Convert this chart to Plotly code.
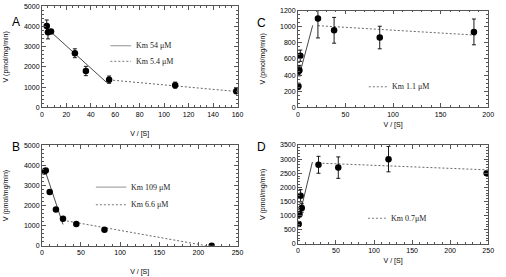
import plotly.graph_objects as go

# ---------------- data ----------------
# Panel A
a_x = [4, 5, 7.5, 27, 36, 55, 109, 159]
a_y = [4030, 3720, 3760, 2680, 1800, 1370, 1100, 800]
a_err = [300, 330, 90, 220, 230, 180, 150, 120]
a_fit1_x = [7, 53]
a_fit1_y = [3760, 1230]
a_fit2_x = [55, 160]
a_fit2_y = [1360, 780]

# Panel B
b_x = [3, 5, 10, 18, 27, 44, 80, 217]
b_y = [3700, 3750, 2680, 1800, 1350, 1080, 800, 0]
b_err = [60, 60, 60, 60, 60, 60, 60, 40]
b_fit1_x = [3, 27]
b_fit1_y = [3870, 1060]
b_fit2_x = [27, 210]
b_fit2_y = [1270, 0]

# Panel C
c_x = [0.5, 1, 1.5, 2.5, 21, 38, 86, 185]
c_y = [260, 450, 460, 640, 1100, 955, 865, 935]
c_err = [40, 60, 60, 70, 240, 160, 140, 160]
c_fit1_x = [2, 15.5]
c_fit1_y = [420, 1015]
c_fit2_x = [21, 187]
c_fit2_y = [1012, 895]

# Panel D
d_x = [1, 2, 3.5, 5, 27, 53, 119, 248]
d_y = [700, 1050, 1700, 1270, 2800, 2700, 3000, 2500]
d_err = [80, 100, 220, 150, 300, 380, 450, 60]
d_fit1_x = [1, 19]
d_fit1_y = [880, 2900]
d_fit2_x = [27, 250]
d_fit2_y = [2860, 2620]

panel_letters = ["A", "B", "C", "D"]
y_title = "V (pmol/mg/min)"
x_title = "V / [S]"

fig = go.Figure()

DASH = "2px,2px"
LINEC = "#333333"
DASHC = "#555555"

def add_panel(n, xs, ys, errs, f1x, f1y, f2x, f2y):
    xa = "x" if n == 1 else f"x{n}"
    ya = "y" if n == 1 else f"y{n}"
    fig.add_trace(go.Scatter(x=f1x, y=f1y, mode="lines", xaxis=xa, yaxis=ya,
                             line=dict(color=LINEC, width=0.9), showlegend=False))
    fig.add_trace(go.Scatter(x=f2x, y=f2y, mode="lines", xaxis=xa, yaxis=ya,
                             line=dict(color=DASHC, width=0.9, dash=DASH), showlegend=False))
    fig.add_trace(go.Scatter(x=xs, y=ys, mode="markers", xaxis=xa, yaxis=ya,
                             marker=dict(color="black", size=6.5),
                             error_y=dict(type="data", array=errs, color="black",
                                          thickness=0.9, width=2),
                             showlegend=False))

add_panel(1, a_x, a_y, a_err, a_fit1_x, a_fit1_y, a_fit2_x, a_fit2_y)
add_panel(2, b_x, b_y, b_err, b_fit1_x, b_fit1_y, b_fit2_x, b_fit2_y)
add_panel(3, c_x, c_y, c_err, c_fit1_x, c_fit1_y, c_fit2_x, c_fit2_y)
add_panel(4, d_x, d_y, d_err, d_fit1_x, d_fit1_y, d_fit2_x, d_fit2_y)

W, H = 506, 277
def px(x): return x / W
def py(y): return 1 - y / H

tickfont = dict(family="Liberation Sans, Arial", size=7, color="black")
titlefont = dict(family="Liberation Sans, Arial", size=7, color="black")

def ax_common(rng, dtick, minor_dtick):
    return dict(range=rng, dtick=dtick, showgrid=False, zeroline=False,
                showline=True, linecolor="#555555", linewidth=0.8, mirror="allticks",
                ticks="inside", ticklen=4, tickwidth=0.7, tickcolor="#555555",
                minor=dict(dtick=minor_dtick, ticks="inside", ticklen=2, tickwidth=0.6,
                           tickcolor="#555555", showgrid=False),
                tickfont=tickfont, fixedrange=True)

xdomA = [px(40.5), px(239.3)]
xdomC = [px(300.7), px(494)]
ydomTop_A = [py(106), py(2.5)]
ydomTop_C = [py(106), py(6.7)]
ydomB = [py(248), py(145)]
ydomD = [py(246), py(144.7)]

fig.update_layout(
    width=W, height=H, margin=dict(l=0, r=0, t=0, b=0),
    paper_bgcolor="white", plot_bgcolor="white", showlegend=False,
    xaxis=dict(domain=xdomA, anchor="y", **ax_common([0, 160], 20, 5),
               title=dict(text=x_title, font=titlefont, standoff=14)),
    yaxis=dict(domain=ydomTop_A, anchor="x", **ax_common([0, 5000], 1000, 200),
               title=dict(text=y_title, font=titlefont, standoff=14)),
    xaxis2=dict(domain=xdomA, anchor="y2", **ax_common([0, 250], 50, 10),
                title=dict(text=x_title, font=titlefont, standoff=14)),
    yaxis2=dict(domain=ydomB, anchor="x2", **ax_common([0, 5000], 1000, 200),
                title=dict(text=y_title, font=titlefont, standoff=14)),
    xaxis3=dict(domain=xdomC, anchor="y3", **ax_common([0, 200], 50, 10),
                title=dict(text=x_title, font=titlefont, standoff=5)),
    yaxis3=dict(domain=ydomTop_C, anchor="x3", **ax_common([0, 1200], 200, 50),
                title=dict(text=y_title, font=titlefont, standoff=13)),
    xaxis4=dict(domain=xdomC, anchor="y4", **ax_common([0, 250], 50, 10),
                title=dict(text=x_title, font=titlefont, standoff=5)),
    yaxis4=dict(domain=ydomD, anchor="x4", **ax_common([0, 3500], 500, 100),
                title=dict(text=y_title, font=titlefont, standoff=13)),
)

# Panel letters
letter_pos = [(8, 9), (8, 147), (264, 10), (264, 147)]
for L, (lx, ly) in zip(panel_letters, letter_pos):
    fig.add_annotation(x=px(lx), y=py(ly), xref="paper", yref="paper", text=L,
                       showarrow=False, font=dict(family="Liberation Sans, Arial", size=12, color="black"))

legfont = dict(family="Liberation Serif, Times New Roman", size=8, color="#222222")
legends = [
    ("x", "y", 56, 73, 3050, "solid", "Km 54 \u03bcM"),
    ("x", "y", 56, 73, 2280, DASH, "Km 5.4 \u03bcM"),
    ("x2", "y2", 69, 108, 2920, "solid", "Km 109 \u03bcM"),
    ("x2", "y2", 69, 108, 2040, DASH, "Km 6.6 \u03bcM"),
    ("x3", "y3", 74.5, 93.5, 255, DASH, "Km 1.1 \u03bcM"),
    ("x4", "y4", 92, 115.5, 905, DASH, "Km 0.7\u03bcM"),
]
for xr, yr, x0, x1, yv, dash, txt in legends:
    fig.add_shape(type="line", xref=xr, yref=yr, x0=x0, x1=x1, y0=yv, y1=yv,
                  line=dict(color=DASHC if dash != "solid" else "#777777", width=0.8, dash=dash))
    fig.add_annotation(xref=xr, yref=yr, x=x1, y=yv, text=txt, xanchor="left",
                       xshift=3, showarrow=False, font=legfont)

fig.write_html("out.html", config={"displayModeBar": False},
               post_script="document.body.style.margin='0';document.body.style.overflow='hidden';")
